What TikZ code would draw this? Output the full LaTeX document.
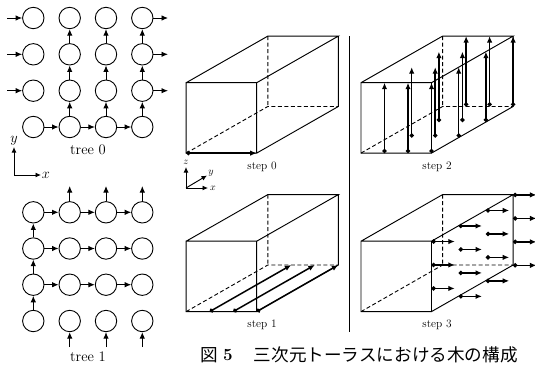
\documentclass[tikz,border=0pt]{standalone}
\usepackage{fontspec}
\newfontfamily\cjk{Noto Sans CJK JP}
\usetikzlibrary{arrows.meta}
\tikzset{
  x=1pt,y=-1pt,
  every path/.style={line width=0.9pt},
  cell/.style={circle,draw,minimum size=21.4pt,inner sep=0pt,line width=0.9pt},
  link/.style={-{Latex[length=6.5pt,width=5.5pt]},line width=0.95pt},
  edge3/.style={line width=0.95pt},
  hidden/.style={dashed,dash pattern=on 4pt off 2.5pt,line width=0.9pt},
  route/.style={{Circle[length=4.2pt]}-{Latex[length=6.5pt,width=5.5pt]},line width=1.5pt},
  axis/.style={-{Latex[length=5.5pt,width=5pt]},line width=0.95pt},
  biglabel/.style={font=\fontsize{14.6}{16}\selectfont,inner sep=0pt},
  steplabel/.style={font=\fontsize{11.4}{13}\selectfont,inner sep=0pt},
  smalllabel/.style={font=\fontsize{10}{12}\selectfont,inner sep=0pt},
}
\newcommand{\cubeframe}[2]{%
  \coordinate (A) at (#1,#2);
  \coordinate (B) at (#1+70.5,#2);
  \coordinate (C) at (#1+70.5,#2+70.4);
  \coordinate (D) at (#1,#2+70.4);
  \coordinate (E) at (#1+81.6,#2-46.6);
  \coordinate (F) at (#1+152.1,#2-46.6);
  \coordinate (G) at (#1+152.1,#2+23.8);
  \coordinate (H) at (#1+81.6,#2+23.8);
  \draw[edge3] (A)--(B)--(C)--(D)--cycle (A)--(E)--(F)--(B) (F)--(G)--(C);
  \draw[hidden] (E)--(H) (D)--(H)--(G);
}
\begin{document}
\begin{tikzpicture}
\useasboundingbox (0,0) rectangle (535,365);
% tree 0
\foreach \c/\x in {1/33.3,2/69.7,3/106,4/142.3}
  \foreach \r/\y in {1/18,2/54.3,3/90.7,4/127}
    \node[cell] (a\c\r) at (\x,\y) {};
\foreach \r/\y in {1/18,2/54.3,3/90.7}{
  \coordinate (ain\r) at (7,\y);
  \coordinate (aout\r) at (168,\y);
  \draw[link] (ain\r) -- (a1\r);
  \draw[link] (a4\r) -- (aout\r);
}
\foreach \c in {2,3,4}{
  \draw[link] (a\c4) -- (a\c3);
  \draw[link] (a\c3) -- (a\c2);
  \draw[link] (a\c2) -- (a\c1);
}
\draw[link] (a14) -- (a24);
\draw[link] (a24) -- (a34);
\draw[link] (a34) -- (a44);
\node[biglabel] (t0) at (88,150) {tree 0};
% axes xy
\coordinate (o) at (14,175);
\coordinate (oy) at (14,147);
\coordinate (ox) at (41,175);
\draw[axis] (o) -- (oy);
\draw[axis] (o) -- (ox);
\node[biglabel] (ly) at (14,141) {$y$};
\node[biglabel] (lx) at (46,175.5) {$x$};
% tree 1
\foreach \c/\x in {1/33.3,2/69.7,3/106,4/142.3}
  \foreach \r/\y in {1/212.3,2/248.5,3/284.7,4/321}
    \node[cell] (b\c\r) at (\x,\y) {};
\foreach \r in {1,2,3}{
  \draw[link] (b1\r) -- (b2\r);
  \draw[link] (b2\r) -- (b3\r);
  \draw[link] (b3\r) -- (b4\r);
}
\draw[link] (b14) -- (b13);
\draw[link] (b13) -- (b12);
\draw[link] (b12) -- (b11);
\foreach \c/\x in {2/69.7,3/106,4/142.3}{
  \coordinate (bin\c) at (\x,347);
  \coordinate (bout\c) at (\x,186);
  \draw[link] (bin\c) -- (b\c4);
  \draw[link] (b\c1) -- (bout\c);
}
\node[biglabel] (t1) at (88,357) {tree 1};
% divider
\coordinate (d1) at (349,36);
\coordinate (d2) at (349,331.5);
\draw[line width=1pt] (d1) -- (d2);
% step 0
\cubeframe{186.2}{82.7}
\draw[route] (D) -- (C);
\node[steplabel] (s0) at (262,166.5) {step 0};
\coordinate (o3) at (186,188);
\coordinate (oz) at (186,167);
\coordinate (oyy) at (207,175.5);
\coordinate (oxx) at (208,188);
\draw[axis] (o3) -- (oz);
\draw[axis] (o3) -- (oyy);
\draw[axis] (o3) -- (oxx);
\node[smalllabel] (lz) at (186,162) {$z$};
\node[smalllabel] (lyy) at (211,173) {$y$};
\node[smalllabel] (lxx) at (213,188) {$x$};
% step 1
\cubeframe{186.2}{241.2}
\foreach \j in {1,2,3}{
  \coordinate (p\j) at ({186.2+23.5*\j},311.6);
  \coordinate (q\j) at ({267.8+23.5*\j},265);
  \draw[route] (p\j) -- (q\j);
}
\node[steplabel] (s1) at (262,325) {step 1};
% step 2
\cubeframe{361}{82.7}
\foreach \i in {0,1,2,3}
  \foreach \j in {1,2,3}{
    \coordinate (u\i\j) at ({361+23.5*\j+27.2*\i},{153.1-15.53*\i});
    \coordinate (v\i\j) at ({361+23.5*\j+27.2*\i},{82.7-15.53*\i});
    \draw[route] (u\i\j) -- (v\i\j);
  }
\node[steplabel] (s2) at (437,166.5) {step 2};
% step 3
\cubeframe{361}{241.2}
\foreach \i in {0,1,2,3}
  \foreach \k in {0,1,2,3}{
    \pgfmathtruncatemacro{\skipit}{(\i==0)&&(\k==3)}
    \ifnum\skipit=0
      \coordinate (m\i\k) at ({431.5+27.2*\i},{241.5-15.53*\i+23.47*\k});
      \coordinate (n\i\k) at ({431.5+23.3+27.2*\i},{241.5-15.53*\i+23.47*\k});
      \draw[route] (m\i\k) -- (n\i\k);
    \fi
  }
\node[steplabel] (s3) at (437,325) {step 3};
% caption
\node[inner sep=0pt,anchor=west,font=\cjk\fontsize{17.6}{19}\selectfont] (cap1) at (200,355) {図};
\node[inner sep=0pt,font=\bfseries\fontsize{17}{19}\selectfont] (cap2) at (228,355) {5};
\node[inner sep=0pt,anchor=west,font=\cjk\fontsize{17.6}{19}\selectfont] (cap3) at (253.5,355) {三次元トーラスにおける木の構成};
\end{tikzpicture}
\end{document}
